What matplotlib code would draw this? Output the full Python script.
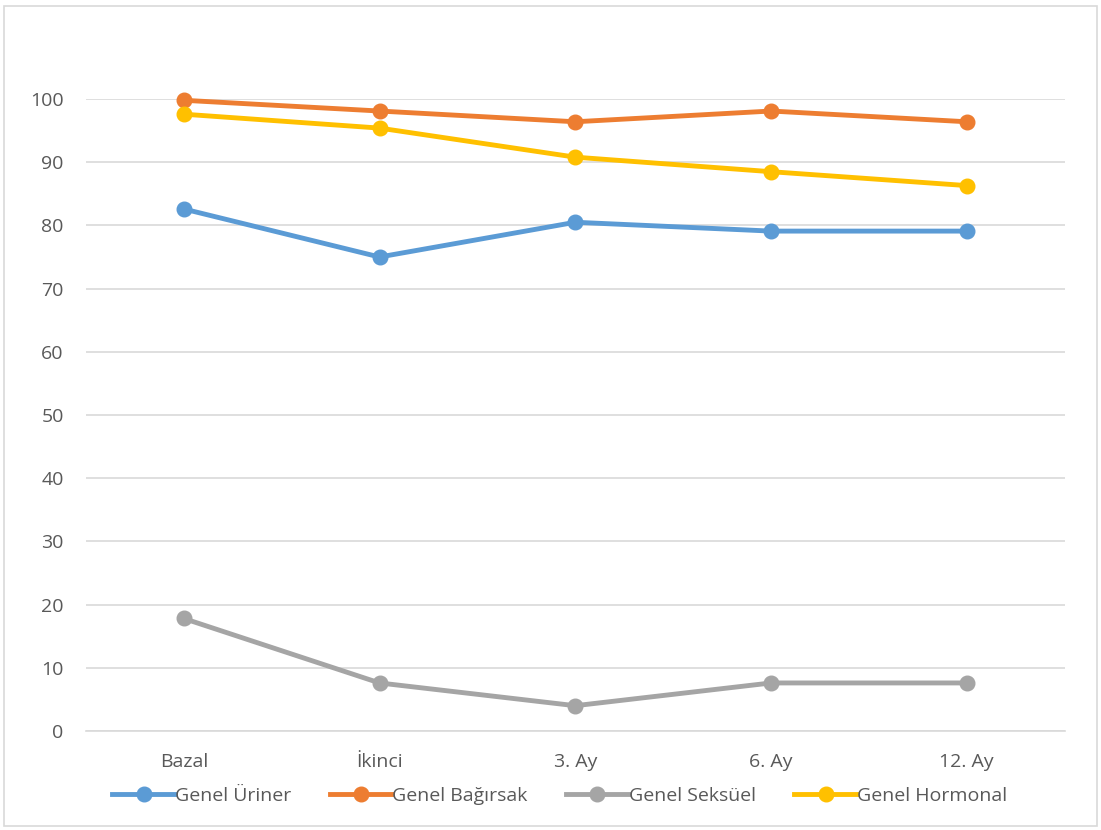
import matplotlib.pyplot as plt
from matplotlib.patches import Rectangle

categories = ['Bazal', 'İkinci', '3. Ay', '6. Ay', '12. Ay']
uriner = [82.6, 75.0, 80.5, 79.1, 79.1]
bagirsak = [99.8, 98.1, 96.4, 98.1, 96.4]
seksuel = [17.8, 7.6, 4.0, 7.6, 7.6]
hormonal = [97.6, 95.4, 90.8, 88.5, 86.3]

series = [
    ('Genel Üriner', uriner, '#5b9bd5'),
    ('Genel Bağırsak', bagirsak, '#ed7d31'),
    ('Genel Seksüel', seksuel, '#a5a5a5'),
    ('Genel Hormonal', hormonal, '#ffc000'),
]

plt.rcParams['font.family'] = ['Open Sans', 'DejaVu Sans']

fig = plt.figure(figsize=(11.01, 8.30), dpi=100)
ax = fig.add_axes([0.078, 0.1193, 0.889, 0.7614])

x = range(len(categories))
for name, vals, color in series:
    ax.plot(x, vals, color=color, linewidth=3.5, marker='o', markersize=10.5,
            label=name, clip_on=False, zorder=3)

ax.set_xlim(-0.5, len(categories) - 0.5)
ax.set_ylim(0, 100)
ax.set_yticks(range(0, 101, 10))
ax.set_xticks(list(x))
ax.set_xticklabels(categories)
ax.tick_params(axis='both', length=0, labelsize=14, labelcolor='#595959')
ax.tick_params(axis='x', pad=16)
ax.tick_params(axis='y', pad=16)
ax.grid(axis='y', color='#d9d9d9', linewidth=1.2)
ax.set_axisbelow(True)
for s in ['top', 'right', 'left']:
    ax.spines[s].set_visible(False)
ax.spines['bottom'].set_color('#d9d9d9')
ax.spines['bottom'].set_linewidth(1.2)

leg = ax.legend(loc='center', bbox_to_anchor=(0.484, -0.103), ncol=4, frameon=False,
                fontsize=14, handlelength=3.2, handletextpad=0.0, columnspacing=2.0,
                labelcolor='#595959')

fig.patches.append(Rectangle((4 / 1101, 4 / 830), 1093 / 1101, 820 / 830,
                             transform=fig.transFigure, fill=False,
                             edgecolor='#d9d9d9', linewidth=1.2))

fig.savefig('out.png', dpi=100)
